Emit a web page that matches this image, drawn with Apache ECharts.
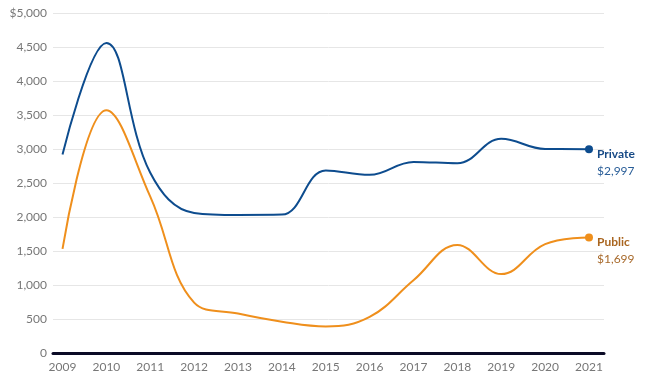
<!DOCTYPE html>
<html>
<head>
<meta charset="utf-8">
<script src="https://cdn.jsdelivr.net/npm/echarts@6/dist/echarts.min.js"></script>
<style>
html,body{margin:0;padding:0;background:#fff;}
#chart{width:650px;height:389px;}
</style>
</head>
<body>
<div id="chart"></div>
<script>
var years = [2009, 2010, 2011, 2012, 2013, 2014, 2015, 2016, 2017, 2018, 2019, 2020, 2021];
var privateValues = [2920, 4560, 2650, 2060, 2030, 2035, 2685, 2620, 2810, 2790, 3150, 3000, 2997];
var publicValues = [1530, 3570, 2300, 740, 580, 460, 390, 530, 1070, 1590, 1160, 1600, 1699];
var yTicks = [0, 500, 1000, 1500, 2000, 2500, 3000, 3500, 4000, 4500, 5000];
var yTickLabels = ['0', '500', '1,000', '1,500', '2,000', '2,500', '3,000', '3,500', '4,000', '4,500', '$5,000'];
var seriesNames = ['Private', 'Public'];
var endLabels = ['$2,997', '$1,699'];

var FONT = 'Lato, "Open Sans", sans-serif';
var colors = ['#0d4c8e', '#ef8f1c'];
var labelColors = [['#174a86', '#2a5e98'], ['#a9651f', '#a86a2c']];

function buildData(vals, color) {
  return vals.map(function (v, i) {
    var item = { value: [years[i], v] };
    if (i === vals.length - 1) {
      item.symbol = 'circle';
      item.symbolSize = 8;
      item.itemStyle = { color: color };
    }
    return item;
  });
}

function makeSeries(idx, vals) {
  return {
    name: seriesNames[idx],
    type: 'line',
    smooth: 0.4,
    symbol: 'none',
    showSymbol: true,
    data: buildData(vals, colors[idx]),
    lineStyle: { color: colors[idx], width: 2 },
    itemStyle: { color: colors[idx] },
    z: 3,
    silent: true,
    endLabel: {
      show: true,
      distance: 8,
      offset: [0, 13],
      formatter: function () { return '{a|' + seriesNames[idx] + '}\n{b|' + endLabels[idx] + '}'; },
      rich: {
        a: { fontFamily: FONT, fontWeight: 'bold', fontSize: 12, color: labelColors[idx][0], lineHeight: 17 },
        b: { fontFamily: FONT, fontSize: 12, color: labelColors[idx][1], lineHeight: 17 }
      }
    }
  };
}

var chart = echarts.init(document.getElementById('chart'), null, { renderer: 'canvas' });
chart.setOption({
  animation: false,
  backgroundColor: '#ffffff',
  grid: { left: 53, right: 46, top: 13, bottom: 36, containLabel: false },
  xAxis: {
    type: 'value',
    min: 2008.783,
    max: 2021.342,
    axisLine: { show: true, onZero: true, lineStyle: { color: '#0b0b26', width: 3 } },
    axisTick: { show: false },
    splitLine: { show: false },
    axisLabel: {
      customValues: years,
      formatter: function (v) { return String(v); },
      color: '#777',
      fontFamily: FONT,
      fontSize: 12,
      margin: 8
    }
  },
  yAxis: {
    type: 'value',
    min: 0,
    max: 5000,
    interval: 500,
    axisLine: { show: false },
    axisTick: { show: false },
    splitLine: { lineStyle: { color: '#e6e6e6', width: 1 } },
    axisLabel: {
      color: '#777',
      fontFamily: FONT,
      fontSize: 12,
      margin: 6,
      formatter: function (v) {
        var i = yTicks.indexOf(v);
        return i >= 0 ? yTickLabels[i] : '';
      }
    }
  },
  series: [makeSeries(0, privateValues), makeSeries(1, publicValues)]
});
</script>
</body>
</html>
